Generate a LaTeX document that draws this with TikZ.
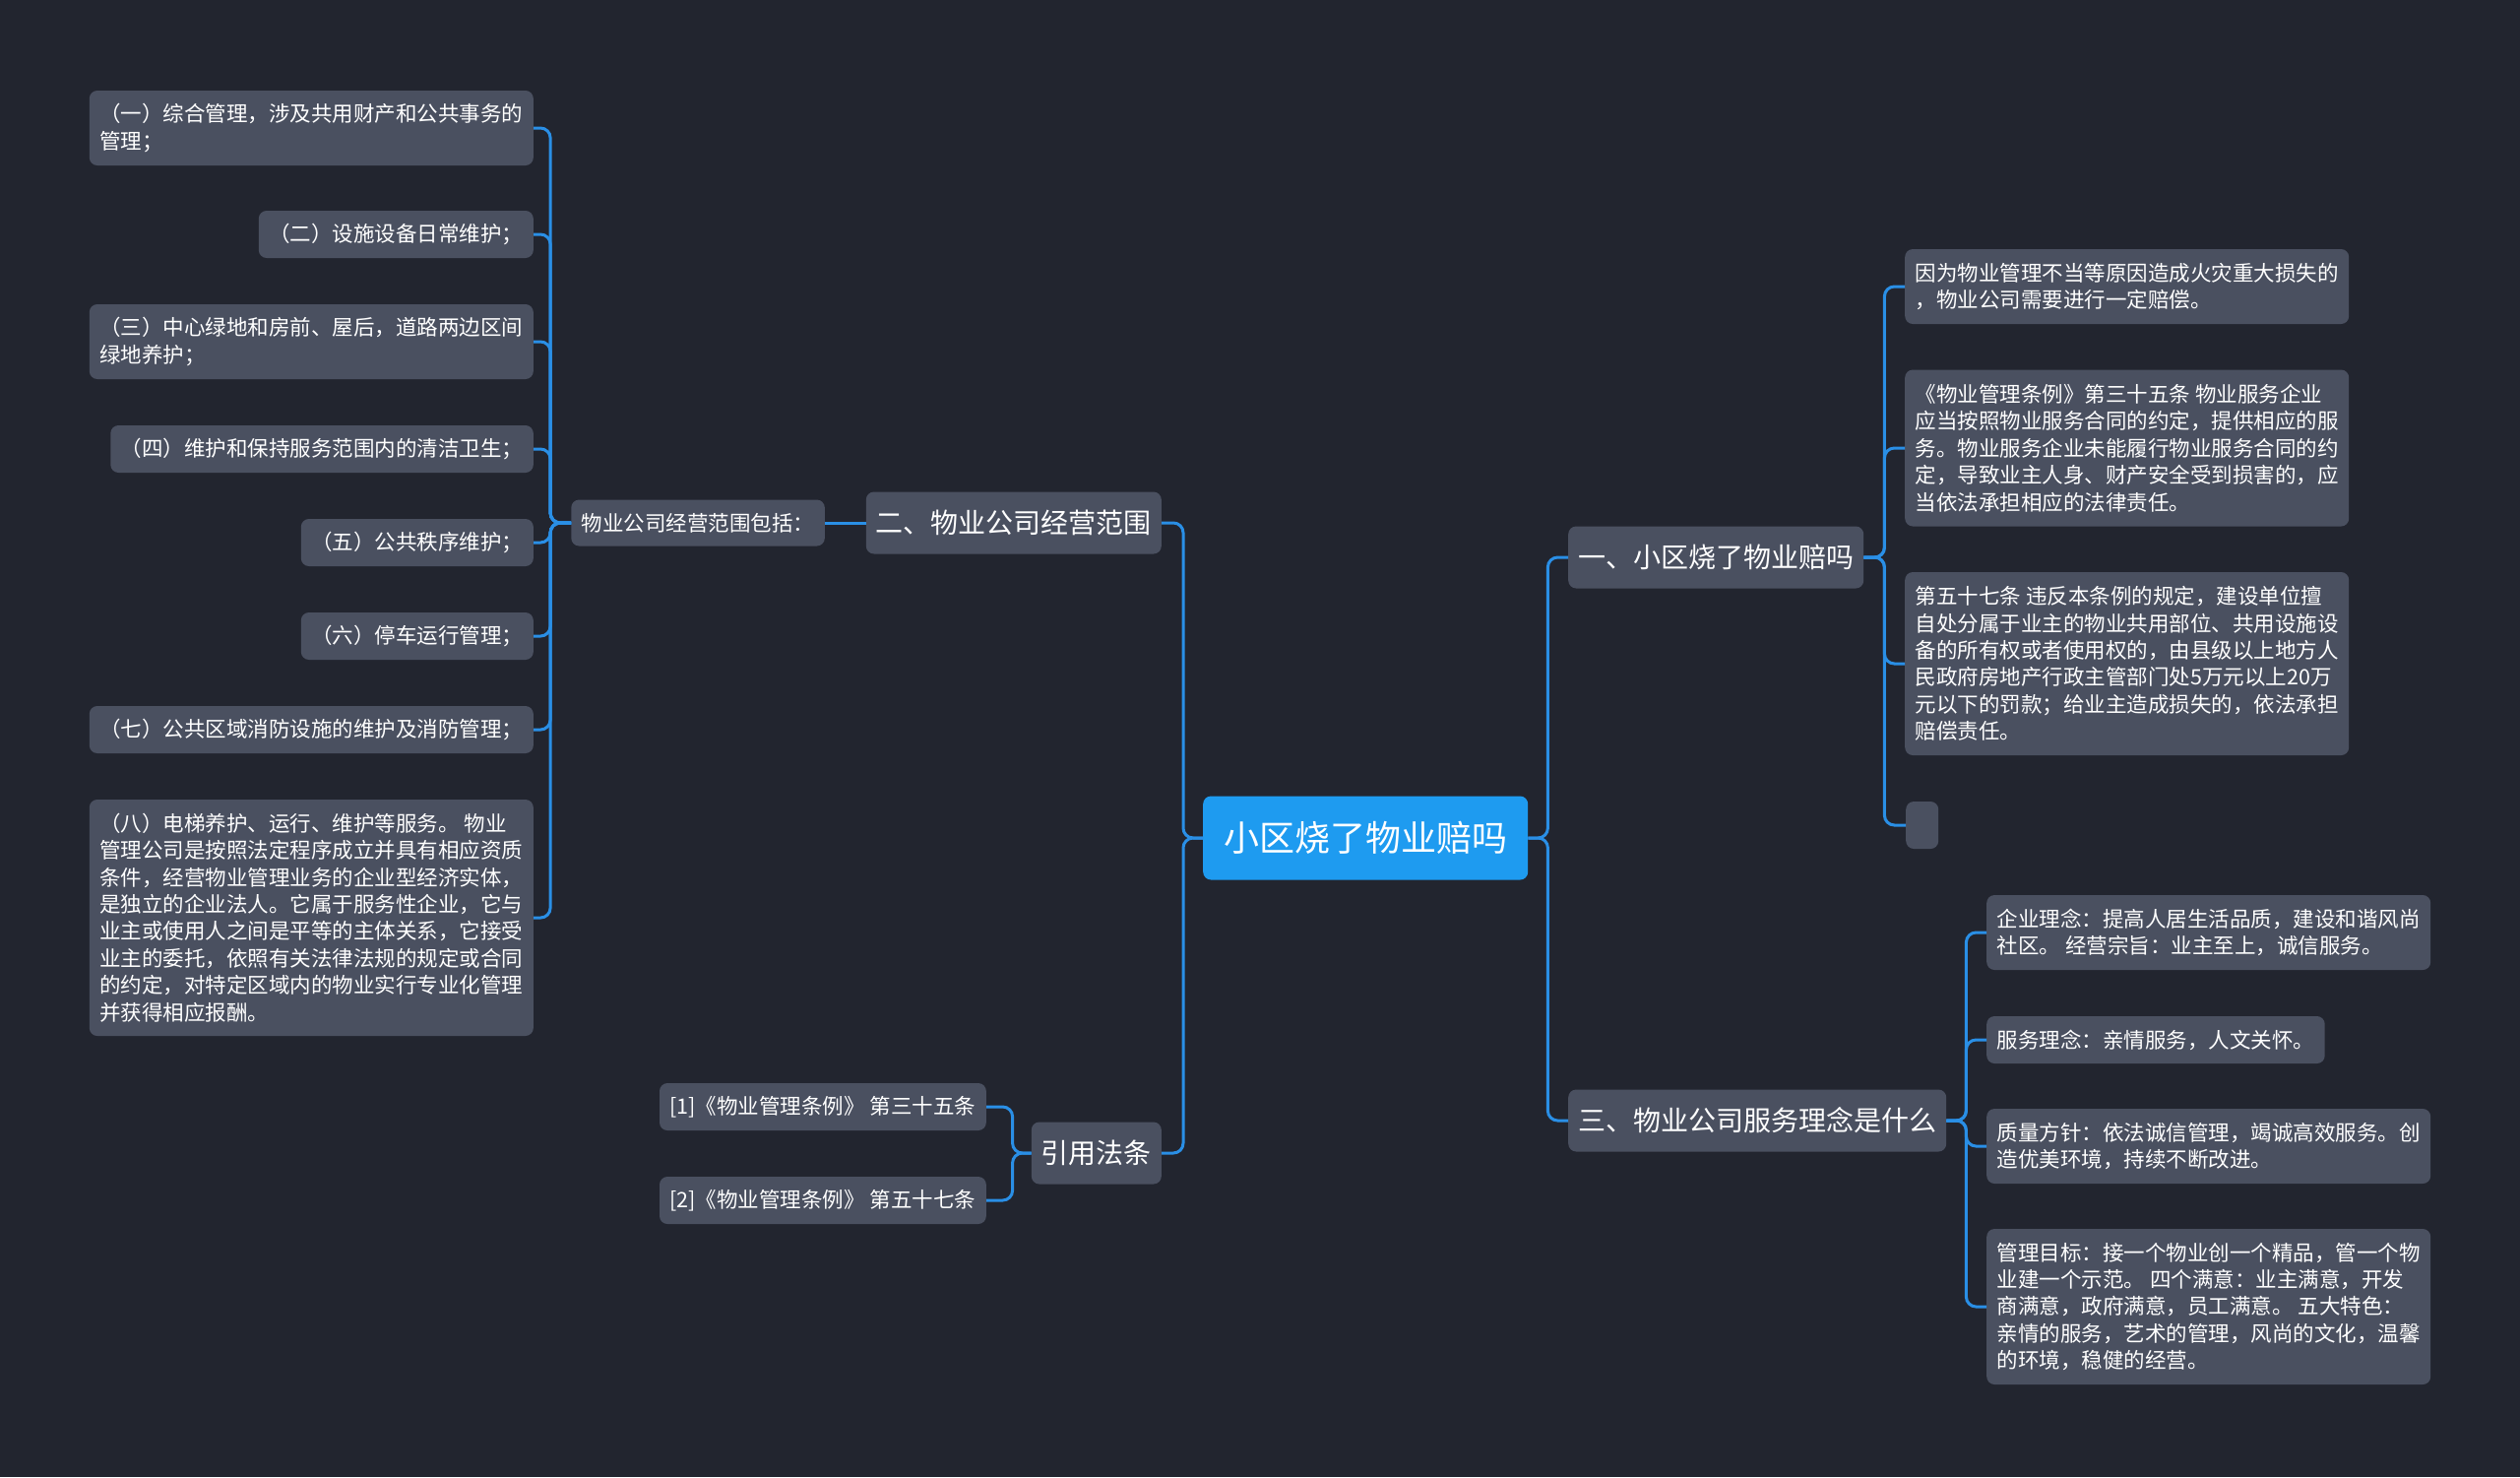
\documentclass[tikz,border=0pt]{standalone}
\usepackage{fontspec}
\newfontfamily\cjk{Noto Sans CJK SC}
\definecolor{bg}{HTML}{22252F}
\definecolor{boxc}{HTML}{4A5060}
\definecolor{linec}{HTML}{2A8FE6}
\definecolor{rootc}{HTML}{1E9BF0}
\begin{document}
\begin{tikzpicture}[x=1pt,y=-1pt,
  box/.style={rounded corners=8, fill=boxc, text=white, align=left, inner xsep=10.5, inner ysep=0},
  leaf/.style={box, font=\cjk\fontsize{21.5}{27.4}\selectfont},
  mainbox/.style={box, font=\cjk\fontsize{28}{34}\selectfont, minimum height=63, inner xsep=10},
  conn/.style={draw=linec, line width=3, rounded corners=10},
]
\fill[bg] (0,0) rectangle (2560,1500);
\useasboundingbox (0,0) rectangle (2560,1500);

% root
\node[box, fill=rootc, font=\cjk\fontsize{36}{42}\selectfont, minimum height=85, inner xsep=21, anchor=west] (root) at (1222,851) {小区烧了物业赔吗};

% level 1
\node[mainbox, anchor=east] (two) at (1180,531) {二、物业公司经营范围};
\node[mainbox, anchor=east] (cite) at (1180,1171) {引用法条};
\node[mainbox, anchor=west] (one) at (1593,566) {一、小区烧了物业赔吗};
\node[mainbox, anchor=west] (three) at (1593,1138) {三、物业公司服务理念是什么};

% level 2 left
\node[leaf, minimum height=47, anchor=east] (scope) at (838,531) {物业公司经营范围包括：};

\node[leaf, minimum height=76, anchor=east] (s1) at (542,130) {（一）综合管理，涉及共用财产和公共事务的\\管理；};
\node[leaf, minimum height=48, anchor=east] (s2) at (542,238) {（二）设施设备日常维护；};
\node[leaf, minimum height=76, anchor=east] (s3) at (542,347) {（三）中心绿地和房前、屋后，道路两边区间\\绿地养护；};
\node[leaf, minimum height=48, anchor=east] (s4) at (542,456) {（四）维护和保持服务范围内的清洁卫生；};
\node[leaf, minimum height=48, anchor=east] (s5) at (542,551) {（五）公共秩序维护；};
\node[leaf, minimum height=48, anchor=east] (s6) at (542,646) {（六）停车运行管理；};
\node[leaf, minimum height=48, anchor=east] (s7) at (542,741) {（七）公共区域消防设施的维护及消防管理；};
\node[leaf, minimum height=240, anchor=east] (s8) at (542,932) {（八）电梯养护、运行、维护等服务。 物业\\管理公司是按照法定程序成立并具有相应资质\\条件，经营物业管理业务的企业型经济实体，\\是独立的企业法人。它属于服务性企业，它与\\业主或使用人之间是平等的主体关系，它接受\\业主的委托，依照有关法律法规的规定或合同\\的约定，对特定区域内的物业实行专业化管理\\并获得相应报酬。};

% citations
\node[leaf, minimum height=48, anchor=east] (c1) at (1002,1124) {[1]《物业管理条例》 第三十五条};
\node[leaf, minimum height=48, anchor=east] (c2) at (1002,1219) {[2]《物业管理条例》 第五十七条};

% right: one
\node[leaf, minimum height=76, anchor=west] (a1) at (1935,291) {因为物业管理不当等原因造成火灾重大损失的\\，物业公司需要进行一定赔偿。};
\node[leaf, minimum height=159, anchor=west] (a2) at (1935,455) {《物业管理条例》第三十五条 物业服务企业\\应当按照物业服务合同的约定，提供相应的服\\务。物业服务企业未能履行物业服务合同的约\\定，导致业主人身、财产安全受到损害的，应\\当依法承担相应的法律责任。};
\node[leaf, minimum height=186, anchor=west] (a3) at (1935,674) {第五十七条 违反本条例的规定，建设单位擅\\自处分属于业主的物业共用部位、共用设施设\\备的所有权或者使用权的，由县级以上地方人\\民政府房地产行政主管部门处5万元以上20万\\元以下的罚款；给业主造成损失的，依法承担\\赔偿责任。};
\node[leaf, minimum height=48, minimum width=33, inner xsep=0, anchor=west] (a4) at (1936,838) {};

% right: three
\node[leaf, minimum height=76, anchor=west] (b1) at (2018,947) {企业理念：提高人居生活品质，建设和谐风尚\\社区。 经营宗旨：业主至上，诚信服务。};
\node[leaf, minimum height=48, anchor=west] (b2) at (2018,1056) {服务理念：亲情服务，人文关怀。};
\node[leaf, minimum height=76, anchor=west] (b3) at (2018,1164) {质量方针：依法诚信管理，竭诚高效服务。创\\造优美环境，持续不断改进。};
\node[leaf, minimum height=158, anchor=west] (b4) at (2018,1327) {管理目标：接一个物业创一个精品，管一个物\\业建一个示范。 四个满意：业主满意，开发\\商满意，政府满意，员工满意。 五大特色：\\亲情的服务，艺术的管理，风尚的文化，温馨\\的环境，稳健的经营。};

% connectors root
\foreach \n in {two,cite} \draw[conn] (root.west) -- ++(-20,0) |- (\n.east);
\foreach \n in {one,three} \draw[conn] (root.east) -- ++(20,0) |- (\n.west);
% two -> scope
\draw[conn] (two.west) -- (scope.east);
\foreach \n in {s1,s2,s3,s4,s5,s6,s7,s8} \draw[conn] (scope.west) -- ++(-21,0) |- (\n.east);
\foreach \n in {c1,c2} \draw[conn] (cite.west) -- ++(-19,0) |- (\n.east);
\foreach \n in {a1,a2,a3,a4} \draw[conn] (one.east) -- ++(21,0) |- (\n.west);
\foreach \n in {b1,b2,b3,b4} \draw[conn] (three.east) -- ++(20,0) |- (\n.west);
\end{tikzpicture}
\end{document}
